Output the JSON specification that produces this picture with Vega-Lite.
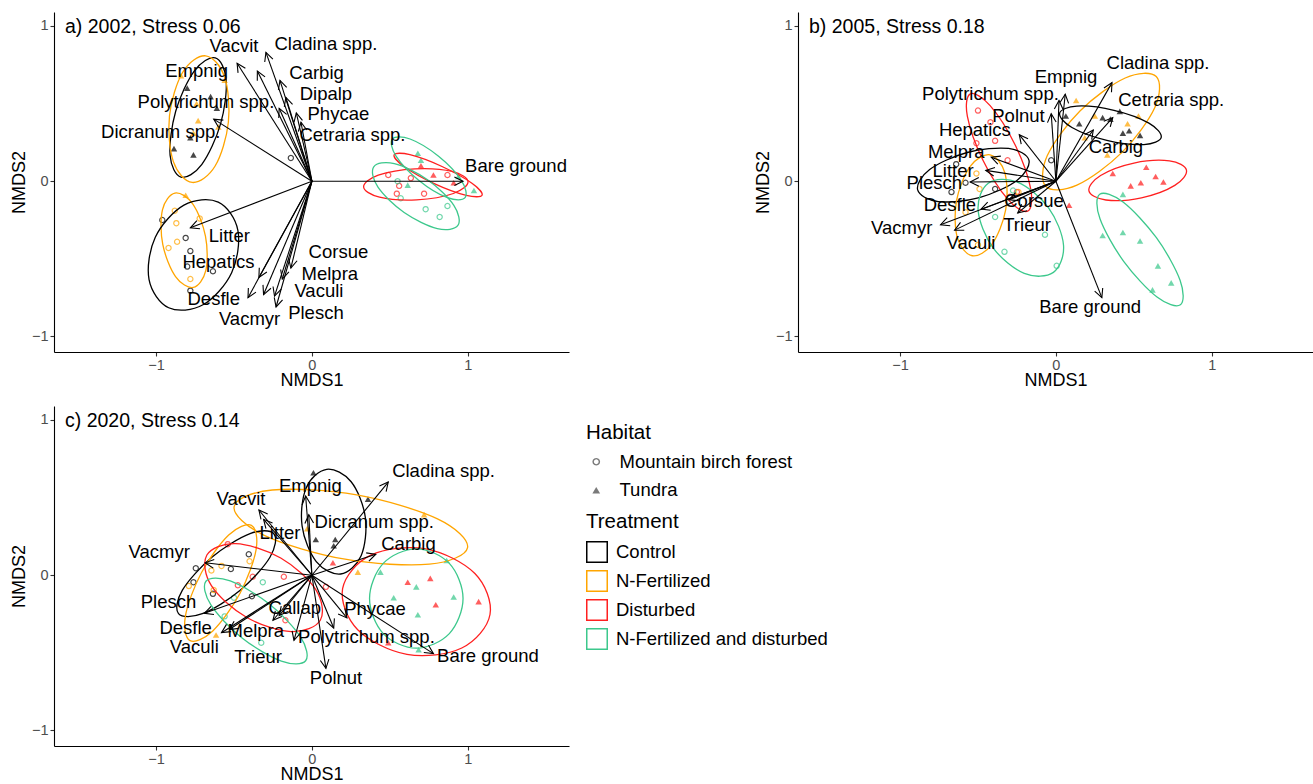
{
"$schema":"https://vega.github.io/schema/vega-lite/v6.json",
"padding":{"left":10,"top":12,"right":0,"bottom":0},
"background":"white",
"datasets":{
"arr":[
{"p":"a","sp":"Vacvit","x":-0.48,"y":0.76,"lx":-0.50,"ly":0.87},
{"p":"a","sp":"Empnig","x":-0.35,"y":0.71,"lx":-0.74,"ly":0.71},
{"p":"a","sp":"Cladina spp.","x":-0.295,"y":0.83,"lx":0.09,"ly":0.885},
{"p":"a","sp":"Carbig","x":-0.205,"y":0.65,"lx":0.03,"ly":0.70},
{"p":"a","sp":"Dipalp","x":-0.167,"y":0.54,"lx":0.09,"ly":0.565},
{"p":"a","sp":"Polytrichum spp.","x":-0.21,"y":0.47,"lx":-0.68,"ly":0.51},
{"p":"a","sp":"Phycae","x":-0.10,"y":0.44,"lx":0.17,"ly":0.43},
{"p":"a","sp":"Cetraria spp.","x":-0.07,"y":0.38,"lx":0.26,"ly":0.295},
{"p":"a","sp":"Dicranum spp.","x":-0.63,"y":0.40,"lx":-0.97,"ly":0.32},
{"p":"a","sp":"Bare ground","x":0.97,"y":0.0,"lx":1.31,"ly":0.096},
{"p":"a","sp":"Litter","x":-0.78,"y":-0.30,"lx":-0.53,"ly":-0.35},
{"p":"a","sp":"Hepatics","x":-0.34,"y":-0.62,"lx":-0.60,"ly":-0.52},
{"p":"a","sp":"Desfle","x":-0.41,"y":-0.75,"lx":-0.63,"ly":-0.76},
{"p":"a","sp":"Vacmyr","x":-0.31,"y":-0.73,"lx":-0.40,"ly":-0.885},
{"p":"a","sp":"Vaculi","x":-0.24,"y":-0.74,"lx":0.045,"ly":-0.71},
{"p":"a","sp":"Plesch","x":-0.23,"y":-0.81,"lx":0.026,"ly":-0.846},
{"p":"a","sp":"Melpra","x":-0.19,"y":-0.63,"lx":0.115,"ly":-0.60},
{"p":"a","sp":"Corsue","x":-0.135,"y":-0.56,"lx":0.17,"ly":-0.455},
{"p":"b","sp":"Cladina spp.","x":0.36,"y":0.635,"lx":0.655,"ly":0.76},
{"p":"b","sp":"Empnig","x":0.06,"y":0.56,"lx":0.065,"ly":0.67},
{"p":"b","sp":"Cetraria spp.","x":0.365,"y":0.41,"lx":0.74,"ly":0.525},
{"p":"b","sp":"Carbig","x":0.24,"y":0.33,"lx":0.385,"ly":0.22},
{"p":"b","sp":"Polnut","x":-0.03,"y":0.435,"lx":-0.24,"ly":0.42},
{"p":"b","sp":"Polytrichum spp.","x":0.02,"y":0.52,"lx":-0.42,"ly":0.565},
{"p":"b","sp":"Hepatics","x":-0.235,"y":0.30,"lx":-0.52,"ly":0.33},
{"p":"b","sp":"Melpra","x":-0.415,"y":0.155,"lx":-0.64,"ly":0.19},
{"p":"b","sp":"Litter","x":-0.45,"y":0.07,"lx":-0.66,"ly":0.065},
{"p":"b","sp":"Plesch","x":-0.55,"y":-0.005,"lx":-0.78,"ly":-0.01},
{"p":"b","sp":"Desfle","x":-0.48,"y":-0.18,"lx":-0.68,"ly":-0.155},
{"p":"b","sp":"Vacmyr","x":-0.74,"y":-0.28,"lx":-0.99,"ly":-0.30},
{"p":"b","sp":"Vaculi","x":-0.65,"y":-0.315,"lx":-0.545,"ly":-0.40},
{"p":"b","sp":"Corsue","x":-0.30,"y":-0.12,"lx":-0.14,"ly":-0.13},
{"p":"b","sp":"Trieur","x":-0.245,"y":-0.205,"lx":-0.185,"ly":-0.28},
{"p":"b","sp":"Bare ground","x":0.295,"y":-0.75,"lx":0.22,"ly":-0.81},
{"p":"c","sp":"Cladina spp.","x":0.49,"y":0.60,"lx":0.845,"ly":0.67},
{"p":"c","sp":"Empnig","x":-0.04,"y":0.51,"lx":-0.01,"ly":0.575},
{"p":"c","sp":"Dicranum spp.","x":-0.02,"y":0.39,"lx":0.40,"ly":0.34},
{"p":"c","sp":"Vacvit","x":-0.34,"y":0.42,"lx":-0.455,"ly":0.49},
{"p":"c","sp":"Litter","x":-0.31,"y":0.36,"lx":-0.205,"ly":0.275},
{"p":"c","sp":"Vacmyr","x":-0.685,"y":0.08,"lx":-0.98,"ly":0.15},
{"p":"c","sp":"Carbig","x":0.41,"y":0.135,"lx":0.62,"ly":0.20},
{"p":"c","sp":"Plesch","x":-0.69,"y":-0.245,"lx":-0.92,"ly":-0.175},
{"p":"c","sp":"Desfle","x":-0.58,"y":-0.37,"lx":-0.81,"ly":-0.34},
{"p":"c","sp":"Vaculi","x":-0.53,"y":-0.35,"lx":-0.755,"ly":-0.46},
{"p":"c","sp":"Melpra","x":-0.25,"y":-0.29,"lx":-0.36,"ly":-0.36},
{"p":"c","sp":"Callap","x":-0.21,"y":-0.26,"lx":-0.11,"ly":-0.21},
{"p":"c","sp":"Trieur","x":-0.115,"y":-0.42,"lx":-0.345,"ly":-0.525},
{"p":"c","sp":"Polnut","x":0.09,"y":-0.60,"lx":0.155,"ly":-0.665},
{"p":"c","sp":"Polytrichum spp.","x":0.14,"y":-0.34,"lx":0.35,"ly":-0.40},
{"p":"c","sp":"Phycae","x":0.225,"y":-0.275,"lx":0.405,"ly":-0.215},
{"p":"c","sp":"Bare ground","x":0.78,"y":-0.505,"lx":1.13,"ly":-0.52}
],
"pts":[
{"p":"a","h":"T","t":"C","x":-0.80,"y":0.60},{"p":"a","h":"T","t":"C","x":-0.65,"y":0.545},{"p":"a","h":"T","t":"C","x":-0.61,"y":0.47},{"p":"a","h":"T","t":"C","x":-0.885,"y":0.21},{"p":"a","h":"T","t":"C","x":-0.76,"y":0.17},{"p":"a","h":"T","t":"C","x":-0.78,"y":0.28},
{"p":"a","h":"T","t":"N","x":-0.84,"y":0.68},{"p":"a","h":"T","t":"N","x":-0.56,"y":0.65},{"p":"a","h":"T","t":"N","x":-0.73,"y":0.39},{"p":"a","h":"T","t":"N","x":-0.60,"y":0.35},{"p":"a","h":"T","t":"N","x":-0.74,"y":0.50},{"p":"a","h":"T","t":"N","x":-0.76,"y":0.31},{"p":"a","h":"T","t":"N","x":-0.81,"y":-0.09},
{"p":"a","h":"F","t":"C","x":-0.135,"y":0.15},{"p":"a","h":"F","t":"C","x":-0.96,"y":-0.25},{"p":"a","h":"F","t":"C","x":-0.81,"y":-0.365},{"p":"a","h":"F","t":"C","x":-0.78,"y":-0.45},{"p":"a","h":"F","t":"C","x":-0.80,"y":-0.55},{"p":"a","h":"F","t":"C","x":-0.635,"y":-0.58},{"p":"a","h":"F","t":"C","x":-0.78,"y":-0.705},
{"p":"a","h":"F","t":"N","x":-0.88,"y":-0.19},{"p":"a","h":"F","t":"N","x":-0.87,"y":-0.27},{"p":"a","h":"F","t":"N","x":-0.865,"y":-0.39},{"p":"a","h":"F","t":"N","x":-0.92,"y":-0.43},{"p":"a","h":"F","t":"N","x":-0.72,"y":-0.24},{"p":"a","h":"F","t":"N","x":-0.78,"y":-0.63},
{"p":"a","h":"F","t":"D","x":0.49,"y":0.04},{"p":"a","h":"F","t":"D","x":0.56,"y":-0.03},{"p":"a","h":"F","t":"D","x":0.545,"y":-0.08},{"p":"a","h":"F","t":"D","x":0.635,"y":0.02},{"p":"a","h":"F","t":"D","x":0.72,"y":-0.08},{"p":"a","h":"F","t":"D","x":0.87,"y":0.04},
{"p":"a","h":"T","t":"D","x":0.78,"y":0.04},{"p":"a","h":"T","t":"D","x":0.91,"y":-0.01},{"p":"a","h":"T","t":"D","x":0.70,"y":0.10},
{"p":"a","h":"F","t":"ND","x":0.55,"y":0.0},{"p":"a","h":"F","t":"ND","x":0.57,"y":-0.11},{"p":"a","h":"F","t":"ND","x":0.73,"y":-0.18},{"p":"a","h":"F","t":"ND","x":0.82,"y":-0.23},{"p":"a","h":"F","t":"ND","x":0.87,"y":-0.16},
{"p":"a","h":"T","t":"ND","x":0.68,"y":0.18},{"p":"a","h":"T","t":"ND","x":0.70,"y":0.135},{"p":"a","h":"T","t":"ND","x":0.615,"y":-0.025},{"p":"a","h":"T","t":"ND","x":1.04,"y":-0.06},{"p":"a","h":"T","t":"ND","x":0.94,"y":0.03},
{"p":"b","h":"T","t":"C","x":0.064,"y":0.42},{"p":"b","h":"T","t":"C","x":0.15,"y":0.37},{"p":"b","h":"T","t":"C","x":0.30,"y":0.41},{"p":"b","h":"T","t":"C","x":0.35,"y":0.40},{"p":"b","h":"T","t":"C","x":0.41,"y":0.45},{"p":"b","h":"T","t":"C","x":0.43,"y":0.31},{"p":"b","h":"T","t":"C","x":0.47,"y":0.325},{"p":"b","h":"T","t":"C","x":0.54,"y":0.295},
{"p":"b","h":"T","t":"N","x":0.13,"y":0.52},{"p":"b","h":"T","t":"N","x":0.25,"y":0.42},{"p":"b","h":"T","t":"N","x":0.185,"y":0.28},{"p":"b","h":"T","t":"N","x":0.46,"y":0.37},{"p":"b","h":"T","t":"N","x":0.53,"y":0.42},{"p":"b","h":"T","t":"N","x":0.33,"y":0.17},
{"p":"b","h":"T","t":"D","x":0.58,"y":0.09},{"p":"b","h":"T","t":"D","x":0.64,"y":0.03},{"p":"b","h":"T","t":"D","x":0.545,"y":-0.01},{"p":"b","h":"T","t":"D","x":0.48,"y":-0.03},{"p":"b","h":"T","t":"D","x":0.69,"y":-0.005},{"p":"b","h":"T","t":"D","x":0.365,"y":0.05},{"p":"b","h":"T","t":"D","x":0.085,"y":-0.155},
{"p":"b","h":"T","t":"ND","x":0.43,"y":-0.085},{"p":"b","h":"T","t":"ND","x":0.30,"y":-0.35},{"p":"b","h":"T","t":"ND","x":0.43,"y":-0.33},{"p":"b","h":"T","t":"ND","x":0.54,"y":-0.385},{"p":"b","h":"T","t":"ND","x":0.655,"y":-0.545},{"p":"b","h":"T","t":"ND","x":0.74,"y":-0.655},{"p":"b","h":"T","t":"ND","x":0.62,"y":-0.70},
{"p":"b","h":"F","t":"D","x":-0.50,"y":0.455},{"p":"b","h":"F","t":"D","x":-0.42,"y":0.38},{"p":"b","h":"F","t":"D","x":-0.39,"y":0.26},{"p":"b","h":"F","t":"D","x":-0.51,"y":0.245},{"p":"b","h":"F","t":"D","x":-0.31,"y":0.135},{"p":"b","h":"F","t":"D","x":-0.295,"y":-0.10},{"p":"b","h":"F","t":"D","x":-0.25,"y":-0.07},
{"p":"b","h":"F","t":"C","x":-0.64,"y":0.11},{"p":"b","h":"F","t":"C","x":-0.58,"y":-0.01},{"p":"b","h":"F","t":"C","x":-0.67,"y":-0.07},{"p":"b","h":"F","t":"C","x":-0.39,"y":-0.05},{"p":"b","h":"F","t":"C","x":-0.03,"y":0.135},
{"p":"b","h":"F","t":"N","x":-0.58,"y":-0.2},{"p":"b","h":"F","t":"N","x":-0.49,"y":-0.05},{"p":"b","h":"F","t":"N","x":-0.50,"y":-0.41},{"p":"b","h":"F","t":"N","x":-0.24,"y":-0.07},{"p":"b","h":"F","t":"N","x":-0.51,"y":0.05},
{"p":"b","h":"F","t":"ND","x":-0.39,"y":-0.23},{"p":"b","h":"F","t":"ND","x":-0.33,"y":-0.455},{"p":"b","h":"F","t":"ND","x":-0.07,"y":-0.345},{"p":"b","h":"F","t":"ND","x":0.005,"y":-0.545},{"p":"b","h":"F","t":"ND","x":-0.275,"y":-0.06},
{"p":"c","h":"T","t":"C","x":0.01,"y":0.66},{"p":"c","h":"T","t":"C","x":0.025,"y":0.23},{"p":"c","h":"T","t":"C","x":0.15,"y":0.23},{"p":"c","h":"T","t":"C","x":0.14,"y":0.19},{"p":"c","h":"T","t":"C","x":0.36,"y":0.49},
{"p":"c","h":"T","t":"N","x":0.72,"y":0.39},{"p":"c","h":"T","t":"N","x":0.295,"y":0.02},{"p":"c","h":"T","t":"N","x":-0.615,"y":-0.385},{"p":"c","h":"T","t":"N","x":-0.03,"y":0.30},
{"p":"c","h":"T","t":"D","x":0.135,"y":0.08},{"p":"c","h":"T","t":"D","x":0.615,"y":-0.045},{"p":"c","h":"T","t":"D","x":0.76,"y":-0.02},{"p":"c","h":"T","t":"D","x":0.795,"y":-0.19},{"p":"c","h":"T","t":"D","x":1.07,"y":-0.17},{"p":"c","h":"T","t":"D","x":0.49,"y":-0.435},
{"p":"c","h":"T","t":"ND","x":0.44,"y":0.02},{"p":"c","h":"T","t":"ND","x":0.67,"y":-0.075},{"p":"c","h":"T","t":"ND","x":0.525,"y":-0.145},{"p":"c","h":"T","t":"ND","x":0.91,"y":-0.14},{"p":"c","h":"T","t":"ND","x":0.865,"y":0.095},{"p":"c","h":"T","t":"ND","x":0.68,"y":-0.255},{"p":"c","h":"T","t":"ND","x":0.685,"y":-0.48},
{"p":"c","h":"F","t":"C","x":-0.745,"y":0.045},{"p":"c","h":"F","t":"C","x":-0.76,"y":-0.045},{"p":"c","h":"F","t":"C","x":-0.52,"y":0.04},{"p":"c","h":"F","t":"C","x":-0.405,"y":0.135},{"p":"c","h":"F","t":"C","x":-0.635,"y":-0.12},{"p":"c","h":"F","t":"C","x":-0.385,"y":-0.135},
{"p":"c","h":"F","t":"N","x":-0.645,"y":0.03},{"p":"c","h":"F","t":"N","x":-0.58,"y":0.06},{"p":"c","h":"F","t":"N","x":-0.40,"y":0.09},{"p":"c","h":"F","t":"N","x":-0.79,"y":-0.07},{"p":"c","h":"F","t":"N","x":-0.63,"y":-0.095},
{"p":"c","h":"F","t":"D","x":-0.54,"y":0.20},{"p":"c","h":"F","t":"D","x":-0.38,"y":-0.01},{"p":"c","h":"F","t":"D","x":-0.475,"y":-0.065},{"p":"c","h":"F","t":"D","x":-0.18,"y":-0.01},{"p":"c","h":"F","t":"D","x":-0.17,"y":-0.29},{"p":"c","h":"F","t":"D","x":0.09,"y":-0.075},
{"p":"c","h":"F","t":"ND","x":-0.315,"y":-0.045},{"p":"c","h":"F","t":"ND","x":-0.56,"y":-0.265},{"p":"c","h":"F","t":"ND","x":-0.50,"y":-0.145},{"p":"c","h":"F","t":"ND","x":-0.325,"y":-0.435}
],
"ell":[
{"p":"a","g":"a1","t":"C","o":0,"x":-0.62,"y":0.794},{"p":"a","g":"a1","t":"C","o":1,"x":-0.754,"y":0.711},{"p":"a","g":"a1","t":"C","o":2,"x":-0.874,"y":0.451},{"p":"a","g":"a1","t":"C","o":3,"x":-0.91,"y":0.167},{"p":"a","g":"a1","t":"C","o":4,"x":-0.84,"y":0.026},{"p":"a","g":"a1","t":"C","o":5,"x":-0.706,"y":0.109},{"p":"a","g":"a1","t":"C","o":6,"x":-0.586,"y":0.369},{"p":"a","g":"a1","t":"C","o":7,"x":-0.55,"y":0.653},
{"p":"a","g":"a2","t":"N","o":0,"x":-0.682,"y":0.808},{"p":"a","g":"a2","t":"N","o":1,"x":-0.829,"y":0.702},{"p":"a","g":"a2","t":"N","o":2,"x":-0.914,"y":0.42},{"p":"a","g":"a2","t":"N","o":3,"x":-0.889,"y":0.126},{"p":"a","g":"a2","t":"N","o":4,"x":-0.768,"y":-0.008},{"p":"a","g":"a2","t":"N","o":5,"x":-0.621,"y":0.098},{"p":"a","g":"a2","t":"N","o":6,"x":-0.536,"y":0.38},{"p":"a","g":"a2","t":"N","o":7,"x":-0.561,"y":0.674},
{"p":"a","g":"a3","t":"N","o":0,"x":-0.879,"y":-0.076},{"p":"a","g":"a3","t":"N","o":1,"x":-0.959,"y":-0.184},{"p":"a","g":"a3","t":"N","o":2,"x":-0.957,"y":-0.407},{"p":"a","g":"a3","t":"N","o":3,"x":-0.875,"y":-0.614},{"p":"a","g":"a3","t":"N","o":4,"x":-0.761,"y":-0.684},{"p":"a","g":"a3","t":"N","o":5,"x":-0.681,"y":-0.576},{"p":"a","g":"a3","t":"N","o":6,"x":-0.683,"y":-0.353},{"p":"a","g":"a3","t":"N","o":7,"x":-0.765,"y":-0.146},
{"p":"a","g":"a4","t":"C","o":0,"x":-0.601,"y":-0.135},{"p":"a","g":"a4","t":"C","o":1,"x":-0.821,"y":-0.154},{"p":"a","g":"a4","t":"C","o":2,"x":-1.005,"y":-0.361},{"p":"a","g":"a4","t":"C","o":3,"x":-1.045,"y":-0.634},{"p":"a","g":"a4","t":"C","o":4,"x":-0.919,"y":-0.815},{"p":"a","g":"a4","t":"C","o":5,"x":-0.699,"y":-0.796},{"p":"a","g":"a4","t":"C","o":6,"x":-0.515,"y":-0.589},{"p":"a","g":"a4","t":"C","o":7,"x":-0.475,"y":-0.316},
{"p":"a","g":"a5","t":"D","o":0,"x":1.002,"y":-0.003},{"p":"a","g":"a5","t":"D","o":1,"x":0.9,"y":0.063},{"p":"a","g":"a5","t":"D","o":2,"x":0.662,"y":0.08},{"p":"a","g":"a5","t":"D","o":3,"x":0.426,"y":0.039},{"p":"a","g":"a5","t":"D","o":4,"x":0.332,"y":-0.037},{"p":"a","g":"a5","t":"D","o":5,"x":0.434,"y":-0.103},{"p":"a","g":"a5","t":"D","o":6,"x":0.672,"y":-0.12},{"p":"a","g":"a5","t":"D","o":7,"x":0.908,"y":-0.079},
{"p":"a","g":"a6","t":"D","o":0,"x":1.092,"y":-0.09},{"p":"a","g":"a6","t":"D","o":1,"x":1.027,"y":-0.013},{"p":"a","g":"a6","t":"D","o":2,"x":0.835,"y":0.095},{"p":"a","g":"a6","t":"D","o":3,"x":0.629,"y":0.171},{"p":"a","g":"a6","t":"D","o":4,"x":0.528,"y":0.17},{"p":"a","g":"a6","t":"D","o":5,"x":0.593,"y":0.093},{"p":"a","g":"a6","t":"D","o":6,"x":0.785,"y":-0.015},{"p":"a","g":"a6","t":"D","o":7,"x":0.991,"y":-0.091},
{"p":"a","g":"a7","t":"ND","o":0,"x":0.983,"y":-0.106},{"p":"a","g":"a7","t":"ND","o":1,"x":0.96,"y":0.004},{"p":"a","g":"a7","t":"ND","o":2,"x":0.813,"y":0.161},{"p":"a","g":"a7","t":"ND","o":3,"x":0.63,"y":0.272},{"p":"a","g":"a7","t":"ND","o":4,"x":0.517,"y":0.272},{"p":"a","g":"a7","t":"ND","o":5,"x":0.54,"y":0.162},{"p":"a","g":"a7","t":"ND","o":6,"x":0.687,"y":0.005},{"p":"a","g":"a7","t":"ND","o":7,"x":0.87,"y":-0.106},
{"p":"a","g":"a8","t":"ND","o":0,"x":0.937,"y":-0.285},{"p":"a","g":"a8","t":"ND","o":1,"x":0.911,"y":-0.155},{"p":"a","g":"a8","t":"ND","o":2,"x":0.742,"y":0.01},{"p":"a","g":"a8","t":"ND","o":3,"x":0.529,"y":0.113},{"p":"a","g":"a8","t":"ND","o":4,"x":0.397,"y":0.093},{"p":"a","g":"a8","t":"ND","o":5,"x":0.423,"y":-0.037},{"p":"a","g":"a8","t":"ND","o":6,"x":0.592,"y":-0.202},{"p":"a","g":"a8","t":"ND","o":7,"x":0.805,"y":-0.305},
{"p":"b","g":"b1","t":"N","o":0,"x":0.644,"y":0.674},{"p":"b","g":"b1","t":"N","o":1,"x":0.445,"y":0.665},{"p":"b","g":"b1","t":"N","o":2,"x":0.156,"y":0.454},{"p":"b","g":"b1","t":"N","o":3,"x":-0.055,"y":0.165},{"p":"b","g":"b1","t":"N","o":4,"x":-0.064,"y":-0.034},{"p":"b","g":"b1","t":"N","o":5,"x":0.135,"y":-0.025},{"p":"b","g":"b1","t":"N","o":6,"x":0.424,"y":0.186},{"p":"b","g":"b1","t":"N","o":7,"x":0.635,"y":0.475},
{"p":"b","g":"b2","t":"C","o":0,"x":0.676,"y":0.282},{"p":"b","g":"b2","t":"C","o":1,"x":0.597,"y":0.374},{"p":"b","g":"b2","t":"C","o":2,"x":0.373,"y":0.457},{"p":"b","g":"b2","t":"C","o":3,"x":0.135,"y":0.484},{"p":"b","g":"b2","t":"C","o":4,"x":0.024,"y":0.438},{"p":"b","g":"b2","t":"C","o":5,"x":0.103,"y":0.346},{"p":"b","g":"b2","t":"C","o":6,"x":0.327,"y":0.263},{"p":"b","g":"b2","t":"C","o":7,"x":0.565,"y":0.236},
{"p":"b","g":"b3","t":"D","o":0,"x":0.838,"y":0.072},{"p":"b","g":"b3","t":"D","o":1,"x":0.729,"y":0.131},{"p":"b","g":"b3","t":"D","o":2,"x":0.501,"y":0.117},{"p":"b","g":"b3","t":"D","o":3,"x":0.287,"y":0.037},{"p":"b","g":"b3","t":"D","o":4,"x":0.212,"y":-0.062},{"p":"b","g":"b3","t":"D","o":5,"x":0.321,"y":-0.121},{"p":"b","g":"b3","t":"D","o":6,"x":0.549,"y":-0.107},{"p":"b","g":"b3","t":"D","o":7,"x":0.763,"y":-0.027},
{"p":"b","g":"b4","t":"ND","o":0,"x":0.799,"y":-0.796},{"p":"b","g":"b4","t":"ND","o":1,"x":0.797,"y":-0.638},{"p":"b","g":"b4","t":"ND","o":2,"x":0.645,"y":-0.364},{"p":"b","g":"b4","t":"ND","o":3,"x":0.431,"y":-0.134},{"p":"b","g":"b4","t":"ND","o":4,"x":0.281,"y":-0.084},{"p":"b","g":"b4","t":"ND","o":5,"x":0.283,"y":-0.242},{"p":"b","g":"b4","t":"ND","o":6,"x":0.435,"y":-0.516},{"p":"b","g":"b4","t":"ND","o":7,"x":0.649,"y":-0.746},
{"p":"b","g":"b5","t":"D","o":0,"x":-0.181,"y":-0.193},{"p":"b","g":"b5","t":"D","o":1,"x":-0.162,"y":-0.047},{"p":"b","g":"b5","t":"D","o":2,"x":-0.262,"y":0.235},{"p":"b","g":"b5","t":"D","o":3,"x":-0.422,"y":0.487},{"p":"b","g":"b5","t":"D","o":4,"x":-0.549,"y":0.563},{"p":"b","g":"b5","t":"D","o":5,"x":-0.568,"y":0.417},{"p":"b","g":"b5","t":"D","o":6,"x":-0.468,"y":0.135},{"p":"b","g":"b5","t":"D","o":7,"x":-0.308,"y":-0.117},
{"p":"b","g":"b6","t":"C","o":0,"x":-0.173,"y":0.136},{"p":"b","g":"b6","t":"C","o":1,"x":-0.304,"y":0.211},{"p":"b","g":"b6","t":"C","o":2,"x":-0.569,"y":0.185},{"p":"b","g":"b6","t":"C","o":3,"x":-0.81,"y":0.075},{"p":"b","g":"b6","t":"C","o":4,"x":-0.887,"y":-0.056},{"p":"b","g":"b6","t":"C","o":5,"x":-0.756,"y":-0.131},{"p":"b","g":"b6","t":"C","o":6,"x":-0.491,"y":-0.105},{"p":"b","g":"b6","t":"C","o":7,"x":-0.25,"y":0.005},
{"p":"b","g":"b7","t":"N","o":0,"x":-0.423,"y":0.17},{"p":"b","g":"b7","t":"N","o":1,"x":-0.55,"y":0.095},{"p":"b","g":"b7","t":"N","o":2,"x":-0.638,"y":-0.127},{"p":"b","g":"b7","t":"N","o":3,"x":-0.632,"y":-0.365},{"p":"b","g":"b7","t":"N","o":4,"x":-0.537,"y":-0.48},{"p":"b","g":"b7","t":"N","o":5,"x":-0.41,"y":-0.405},{"p":"b","g":"b7","t":"N","o":6,"x":-0.322,"y":-0.183},{"p":"b","g":"b7","t":"N","o":7,"x":-0.328,"y":0.055},
{"p":"b","g":"b8","t":"ND","o":0,"x":-0.016,"y":-0.587},{"p":"b","g":"b8","t":"ND","o":1,"x":0.049,"y":-0.412},{"p":"b","g":"b8","t":"ND","o":2,"x":-0.047,"y":-0.171},{"p":"b","g":"b8","t":"ND","o":3,"x":-0.247,"y":-0.006},{"p":"b","g":"b8","t":"ND","o":4,"x":-0.434,"y":-0.013},{"p":"b","g":"b8","t":"ND","o":5,"x":-0.499,"y":-0.188},{"p":"b","g":"b8","t":"ND","o":6,"x":-0.403,"y":-0.429},{"p":"b","g":"b8","t":"ND","o":7,"x":-0.203,"y":-0.594},
{"p":"c","g":"c1","t":"C","o":0,"x":0.095,"y":0.682},{"p":"c","g":"c1","t":"C","o":1,"x":-0.036,"y":0.564},{"p":"c","g":"c1","t":"C","o":2,"x":-0.063,"y":0.318},{"p":"c","g":"c1","t":"C","o":3,"x":0.028,"y":0.088},{"p":"c","g":"c1","t":"C","o":4,"x":0.185,"y":0.008},{"p":"c","g":"c1","t":"C","o":5,"x":0.316,"y":0.126},{"p":"c","g":"c1","t":"C","o":6,"x":0.343,"y":0.372},{"p":"c","g":"c1","t":"C","o":7,"x":0.252,"y":0.602},
{"p":"c","g":"c2","t":"N","o":0,"x":0.999,"y":0.178},{"p":"c","g":"c2","t":"N","o":1,"x":0.806,"y":0.363},{"p":"c","g":"c2","t":"N","o":2,"x":0.287,"y":0.517},{"p":"c","g":"c2","t":"N","o":3,"x":-0.254,"y":0.549},{"p":"c","g":"c2","t":"N","o":4,"x":-0.499,"y":0.442},{"p":"c","g":"c2","t":"N","o":5,"x":-0.306,"y":0.257},{"p":"c","g":"c2","t":"N","o":6,"x":0.213,"y":0.103},{"p":"c","g":"c2","t":"N","o":7,"x":0.754,"y":0.071},
{"p":"c","g":"c3","t":"D","o":0,"x":1.143,"y":-0.253},{"p":"c","g":"c3","t":"D","o":1,"x":1.046,"y":0.011},{"p":"c","g":"c3","t":"D","o":2,"x":0.73,"y":0.17},{"p":"c","g":"c3","t":"D","o":3,"x":0.378,"y":0.129},{"p":"c","g":"c3","t":"D","o":4,"x":0.197,"y":-0.087},{"p":"c","g":"c3","t":"D","o":5,"x":0.294,"y":-0.351},{"p":"c","g":"c3","t":"D","o":6,"x":0.61,"y":-0.51},{"p":"c","g":"c3","t":"D","o":7,"x":0.962,"y":-0.469},
{"p":"c","g":"c4","t":"ND","o":0,"x":0.67,"y":0.17},{"p":"c","g":"c4","t":"ND","o":1,"x":0.458,"y":0.076},{"p":"c","g":"c4","t":"ND","o":2,"x":0.37,"y":-0.15},{"p":"c","g":"c4","t":"ND","o":3,"x":0.458,"y":-0.376},{"p":"c","g":"c4","t":"ND","o":4,"x":0.67,"y":-0.47},{"p":"c","g":"c4","t":"ND","o":5,"x":0.882,"y":-0.376},{"p":"c","g":"c4","t":"ND","o":6,"x":0.97,"y":-0.15},{"p":"c","g":"c4","t":"ND","o":7,"x":0.882,"y":0.076},
{"p":"c","g":"c5","t":"C","o":0,"x":-0.244,"y":0.267},{"p":"c","g":"c5","t":"C","o":1,"x":-0.397,"y":0.268},{"p":"c","g":"c5","t":"C","o":2,"x":-0.64,"y":0.117},{"p":"c","g":"c5","t":"C","o":3,"x":-0.831,"y":-0.096},{"p":"c","g":"c5","t":"C","o":4,"x":-0.856,"y":-0.247},{"p":"c","g":"c5","t":"C","o":5,"x":-0.703,"y":-0.248},{"p":"c","g":"c5","t":"C","o":6,"x":-0.46,"y":-0.097},{"p":"c","g":"c5","t":"C","o":7,"x":-0.269,"y":0.116},
{"p":"c","g":"c6","t":"N","o":0,"x":-0.388,"y":0.321},{"p":"c","g":"c6","t":"N","o":1,"x":-0.534,"y":0.259},{"p":"c","g":"c6","t":"N","o":2,"x":-0.709,"y":0.016},{"p":"c","g":"c6","t":"N","o":3,"x":-0.812,"y":-0.265},{"p":"c","g":"c6","t":"N","o":4,"x":-0.782,"y":-0.421},{"p":"c","g":"c6","t":"N","o":5,"x":-0.636,"y":-0.359},{"p":"c","g":"c6","t":"N","o":6,"x":-0.461,"y":-0.116},{"p":"c","g":"c6","t":"N","o":7,"x":-0.358,"y":0.165},
{"p":"c","g":"c7","t":"D","o":0,"x":0.054,"y":-0.29},{"p":"c","g":"c7","t":"D","o":1,"x":0.025,"y":-0.093},{"p":"c","g":"c7","t":"D","o":2,"x":-0.2,"y":0.111},{"p":"c","g":"c7","t":"D","o":3,"x":-0.489,"y":0.203},{"p":"c","g":"c7","t":"D","o":4,"x":-0.674,"y":0.13},{"p":"c","g":"c7","t":"D","o":5,"x":-0.645,"y":-0.067},{"p":"c","g":"c7","t":"D","o":6,"x":-0.42,"y":-0.271},{"p":"c","g":"c7","t":"D","o":7,"x":-0.131,"y":-0.363},
{"p":"c","g":"c8","t":"ND","o":0,"x":-0.04,"y":-0.551},{"p":"c","g":"c8","t":"ND","o":1,"x":-0.072,"y":-0.399},{"p":"c","g":"c8","t":"ND","o":2,"x":-0.273,"y":-0.186},{"p":"c","g":"c8","t":"ND","o":3,"x":-0.524,"y":-0.037},{"p":"c","g":"c8","t":"ND","o":4,"x":-0.68,"y":-0.039},{"p":"c","g":"c8","t":"ND","o":5,"x":-0.648,"y":-0.191},{"p":"c","g":"c8","t":"ND","o":6,"x":-0.448,"y":-0.404},{"p":"c","g":"c8","t":"ND","o":7,"x":-0.196,"y":-0.553}
]
},
"columns":2,
"bounds":"flush",
"spacing":{"row":54,"column":229},
"concat":[
{"width":515,"height":340,
"title":{"text":"a) 2002, Stress 0.06","anchor":"start","frame":"group","offset":0,"dx":11,"dy":40,"baseline":"alphabetic"},
"encoding":{
"x":{"field":"x","type":"quantitative","title":"NMDS1","scale":{"domain":[-1.655,1.65],"nice":false,"zero":false},"axis":{"values":[-1,0,1],"title":"NMDS1"}},
"y":{"field":"y","type":"quantitative","title":"NMDS2","scale":{"domain":[-1.1,1.09],"nice":false,"zero":false},"axis":{"values":[-1,0,1],"title":"NMDS2"}}},
"layer":[
{"data":{"name":"pts"},"transform":[{"filter":"datum.p=='a'"}],"mark":{"type":"point","filled":true,"opacity":0.72,"strokeWidth":0,"size":42},
"encoding":{"shape":{"field":"h","type":"nominal","scale":{"domain":["F","T"],"range":["M 1 0 L 0.866 0.5 L 0.5 0.866 L 0 1 L -0.5 0.866 L -0.866 0.5 L -1 0 L -0.866 -0.5 L -0.5 -0.866 L 0 -1 L 0.5 -0.866 L 0.866 -0.5 Z M 0.62 0 L 0.537 -0.31 L 0.31 -0.537 L 0 -0.62 L -0.31 -0.537 L -0.537 -0.31 L -0.62 0 L -0.537 0.31 L -0.31 0.537 L 0 0.62 L 0.31 0.537 L 0.537 0.31 Z","triangle-up"]},
"legend":{"title":"Habitat","orient":"none","legendX":532,"legendY":411,"labelExpr":"datum.label=='F'?'Mountain birch forest':'Tundra'","symbolSize":60,"rowPadding":9.5,"titlePadding":9,"labelOffset":14,"symbolOffset":1,"labelLimit":500,"encode":{"symbols":{"update":{"fill":{"value":"#000"},"stroke":{"value":"transparent"},"opacity":{"value":1}}}}}},
"fill":{"field":"t","type":"nominal","scale":{"domain":["ND","D","N","C"],"range":["#3CC88C","#FF2020","#FFA500","#000000"]},"legend":null}}},
{"data":{"name":"ell"},"transform":[{"filter":"datum.p=='a'"}],"mark":{"type":"line","interpolate":"cardinal-closed","strokeWidth":1.3},
"encoding":{"stroke":{"field":"t","type":"nominal","scale":{"domain":["C","N","D","ND"],"range":["#000000","#FFA500","#FF2020","#3CC88C"]},
"legend":{"title":"Treatment","orient":"none","legendX":532,"legendY":500,"labelExpr":"datum.label=='C'?'Control':datum.label=='N'?'N-Fertilized':datum.label=='D'?'Disturbed':'N-Fertilized and disturbed'","symbolType":"square","symbolSize":420,"symbolStrokeWidth":1.5,"rowPadding":1,"titlePadding":8.5,"labelOffset":8,"labelLimit":500,"encode":{"symbols":{"update":{"fill":{"value":"transparent"},"shape":{"value":"square"},"strokeWidth":{"value":1.5}}}}}},
"detail":{"field":"g"},"order":{"field":"o","type":"quantitative"}}},
{"data":{"name":"arr"},"transform":[{"filter":"datum.p=='a'"}],"mark":{"type":"rule","color":"#000","strokeWidth":1.1},"encoding":{"x2":{"datum":0},"y2":{"datum":0}}},
{"data":{"name":"arr"},"transform":[{"filter":"datum.p=='a'"},{"calculate":"atan2(datum.x, datum.y)*180/PI","as":"ang"}],"mark":{"type":"point","shape":"M -0.5 1 L 0 0 L 0.5 1","filled":false,"stroke":"#000","strokeWidth":1.1,"size":300,"opacity":1},"encoding":{"angle":{"field":"ang","type":"quantitative","scale":null}}},
{"data":{"name":"arr"},"transform":[{"filter":"datum.p=='a'"}],"mark":{"type":"text","font":"Liberation Sans","fontSize":18.5,"color":"#000","align":"center","baseline":"middle"},
"encoding":{"x":{"field":"lx","type":"quantitative","title":"NMDS1"},"y":{"field":"ly","type":"quantitative","title":"NMDS2"},"text":{"field":"sp"}}}
]},
{"width":515,"height":340,
"title":{"text":"b) 2005, Stress 0.18","anchor":"start","frame":"group","offset":0,"dx":11,"dy":40,"baseline":"alphabetic"},
"encoding":{
"x":{"field":"x","type":"quantitative","title":"NMDS1","scale":{"domain":[-1.655,1.65],"nice":false,"zero":false},"axis":{"values":[-1,0,1],"title":"NMDS1"}},
"y":{"field":"y","type":"quantitative","title":"NMDS2","scale":{"domain":[-1.1,1.09],"nice":false,"zero":false},"axis":{"values":[-1,0,1],"title":"NMDS2"}}},
"layer":[
{"data":{"name":"pts"},"transform":[{"filter":"datum.p=='b'"}],"mark":{"type":"point","filled":true,"opacity":0.72,"strokeWidth":0,"size":42},
"encoding":{"shape":{"field":"h","type":"nominal","scale":{"domain":["F","T"],"range":["M 1 0 L 0.866 0.5 L 0.5 0.866 L 0 1 L -0.5 0.866 L -0.866 0.5 L -1 0 L -0.866 -0.5 L -0.5 -0.866 L 0 -1 L 0.5 -0.866 L 0.866 -0.5 Z M 0.62 0 L 0.537 -0.31 L 0.31 -0.537 L 0 -0.62 L -0.31 -0.537 L -0.537 -0.31 L -0.62 0 L -0.537 0.31 L -0.31 0.537 L 0 0.62 L 0.31 0.537 L 0.537 0.31 Z","triangle-up"]},
"legend":{"title":"Habitat","orient":"none","legendX":532,"legendY":411,"labelExpr":"datum.label=='F'?'Mountain birch forest':'Tundra'","symbolSize":60,"rowPadding":9.5,"titlePadding":9,"labelOffset":14,"symbolOffset":1,"labelLimit":500,"encode":{"symbols":{"update":{"fill":{"value":"#000"},"stroke":{"value":"transparent"},"opacity":{"value":1}}}}}},
"fill":{"field":"t","type":"nominal","scale":{"domain":["ND","D","N","C"],"range":["#3CC88C","#FF2020","#FFA500","#000000"]},"legend":null}}},
{"data":{"name":"ell"},"transform":[{"filter":"datum.p=='b'"}],"mark":{"type":"line","interpolate":"cardinal-closed","strokeWidth":1.3},
"encoding":{"stroke":{"field":"t","type":"nominal","scale":{"domain":["C","N","D","ND"],"range":["#000000","#FFA500","#FF2020","#3CC88C"]},
"legend":{"title":"Treatment","orient":"none","legendX":532,"legendY":500,"labelExpr":"datum.label=='C'?'Control':datum.label=='N'?'N-Fertilized':datum.label=='D'?'Disturbed':'N-Fertilized and disturbed'","symbolType":"square","symbolSize":420,"symbolStrokeWidth":1.5,"rowPadding":1,"titlePadding":8.5,"labelOffset":8,"labelLimit":500,"encode":{"symbols":{"update":{"fill":{"value":"transparent"},"shape":{"value":"square"},"strokeWidth":{"value":1.5}}}}}},
"detail":{"field":"g"},"order":{"field":"o","type":"quantitative"}}},
{"data":{"name":"arr"},"transform":[{"filter":"datum.p=='b'"}],"mark":{"type":"rule","color":"#000","strokeWidth":1.1},"encoding":{"x2":{"datum":0},"y2":{"datum":0}}},
{"data":{"name":"arr"},"transform":[{"filter":"datum.p=='b'"},{"calculate":"atan2(datum.x, datum.y)*180/PI","as":"ang"}],"mark":{"type":"point","shape":"M -0.5 1 L 0 0 L 0.5 1","filled":false,"stroke":"#000","strokeWidth":1.1,"size":300,"opacity":1},"encoding":{"angle":{"field":"ang","type":"quantitative","scale":null}}},
{"data":{"name":"arr"},"transform":[{"filter":"datum.p=='b'"}],"mark":{"type":"text","font":"Liberation Sans","fontSize":18.5,"color":"#000","align":"center","baseline":"middle"},
"encoding":{"x":{"field":"lx","type":"quantitative","title":"NMDS1"},"y":{"field":"ly","type":"quantitative","title":"NMDS2"},"text":{"field":"sp"}}}
]},
{"width":515,"height":340,
"title":{"text":"c) 2020, Stress 0.14","anchor":"start","frame":"group","offset":0,"dx":11,"dy":40,"baseline":"alphabetic"},
"encoding":{
"x":{"field":"x","type":"quantitative","title":"NMDS1","scale":{"domain":[-1.655,1.65],"nice":false,"zero":false},"axis":{"values":[-1,0,1],"title":"NMDS1"}},
"y":{"field":"y","type":"quantitative","title":"NMDS2","scale":{"domain":[-1.1,1.09],"nice":false,"zero":false},"axis":{"values":[-1,0,1],"title":"NMDS2"}}},
"layer":[
{"data":{"name":"pts"},"transform":[{"filter":"datum.p=='c'"}],"mark":{"type":"point","filled":true,"opacity":0.72,"strokeWidth":0,"size":42},
"encoding":{"shape":{"field":"h","type":"nominal","scale":{"domain":["F","T"],"range":["M 1 0 L 0.866 0.5 L 0.5 0.866 L 0 1 L -0.5 0.866 L -0.866 0.5 L -1 0 L -0.866 -0.5 L -0.5 -0.866 L 0 -1 L 0.5 -0.866 L 0.866 -0.5 Z M 0.62 0 L 0.537 -0.31 L 0.31 -0.537 L 0 -0.62 L -0.31 -0.537 L -0.537 -0.31 L -0.62 0 L -0.537 0.31 L -0.31 0.537 L 0 0.62 L 0.31 0.537 L 0.537 0.31 Z","triangle-up"]},
"legend":{"title":"Habitat","orient":"none","legendX":532,"legendY":411,"labelExpr":"datum.label=='F'?'Mountain birch forest':'Tundra'","symbolSize":60,"rowPadding":9.5,"titlePadding":9,"labelOffset":14,"symbolOffset":1,"labelLimit":500,"encode":{"symbols":{"update":{"fill":{"value":"#000"},"stroke":{"value":"transparent"},"opacity":{"value":1}}}}}},
"fill":{"field":"t","type":"nominal","scale":{"domain":["ND","D","N","C"],"range":["#3CC88C","#FF2020","#FFA500","#000000"]},"legend":null}}},
{"data":{"name":"ell"},"transform":[{"filter":"datum.p=='c'"}],"mark":{"type":"line","interpolate":"cardinal-closed","strokeWidth":1.3},
"encoding":{"stroke":{"field":"t","type":"nominal","scale":{"domain":["C","N","D","ND"],"range":["#000000","#FFA500","#FF2020","#3CC88C"]},
"legend":{"title":"Treatment","orient":"none","legendX":532,"legendY":500,"labelExpr":"datum.label=='C'?'Control':datum.label=='N'?'N-Fertilized':datum.label=='D'?'Disturbed':'N-Fertilized and disturbed'","symbolType":"square","symbolSize":420,"symbolStrokeWidth":1.5,"rowPadding":1,"titlePadding":8.5,"labelOffset":8,"labelLimit":500,"encode":{"symbols":{"update":{"fill":{"value":"transparent"},"shape":{"value":"square"},"strokeWidth":{"value":1.5}}}}}},
"detail":{"field":"g"},"order":{"field":"o","type":"quantitative"}}},
{"data":{"name":"arr"},"transform":[{"filter":"datum.p=='c'"}],"mark":{"type":"rule","color":"#000","strokeWidth":1.1},"encoding":{"x2":{"datum":0},"y2":{"datum":0}}},
{"data":{"name":"arr"},"transform":[{"filter":"datum.p=='c'"},{"calculate":"atan2(datum.x, datum.y)*180/PI","as":"ang"}],"mark":{"type":"point","shape":"M -0.5 1 L 0 0 L 0.5 1","filled":false,"stroke":"#000","strokeWidth":1.1,"size":300,"opacity":1},"encoding":{"angle":{"field":"ang","type":"quantitative","scale":null}}},
{"data":{"name":"arr"},"transform":[{"filter":"datum.p=='c'"}],"mark":{"type":"text","font":"Liberation Sans","fontSize":18.5,"color":"#000","align":"center","baseline":"middle"},
"encoding":{"x":{"field":"lx","type":"quantitative","title":"NMDS1"},"y":{"field":"ly","type":"quantitative","title":"NMDS2"},"text":{"field":"sp"}}}
]}
],
"config":{
"view":{"stroke":null},
"font":"Liberation Sans",
"axis":{"grid":false,"domainColor":"#000","domainWidth":1.1,"tickColor":"#333","tickWidth":1.1,"tickSize":4,"labelColor":"#4D4D4D","labelFontSize":14.5,"labelFont":"Liberation Sans","labelPadding":2,"titleFont":"Liberation Sans","titleFontSize":18,"titleFontWeight":"normal","titleColor":"#000","labelFlush":false},
"axisX":{"titlePadding":0},
"axisY":{"titlePadding":3},
"title":{"font":"Liberation Sans","fontSize":19.5,"fontWeight":"normal","color":"#000"},
"legend":{"labelFont":"Liberation Sans","titleFont":"Liberation Sans","labelFontSize":18.5,"titleFontSize":20.5,"titleFontWeight":"normal","labelColor":"#000","titleColor":"#000","padding":0,"labelLimit":500}
}
}
